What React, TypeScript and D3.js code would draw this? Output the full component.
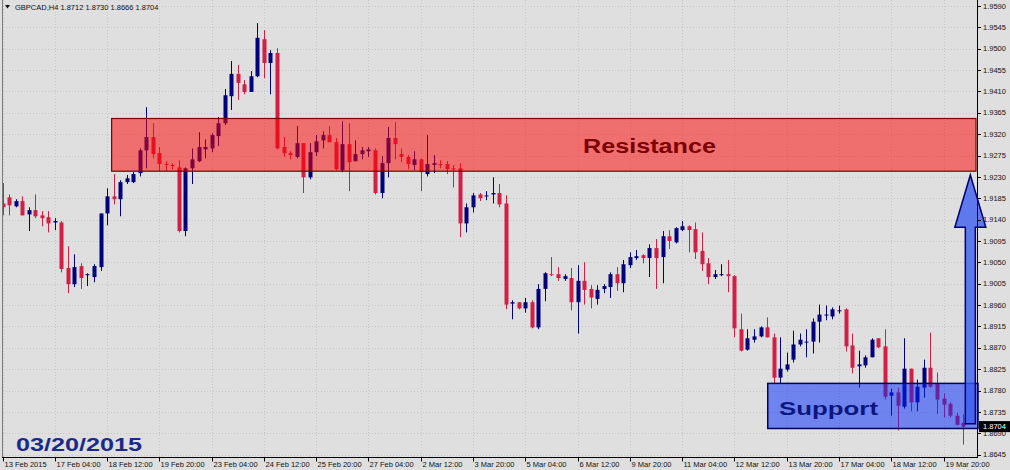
import * as d3 from "d3";

// GBPCAD H4, 13 Feb 20:00 -> 20 Mar 08:00 (148 bars)
const opens = [
  1.9174, 1.9187, 1.9168, 1.9179, 1.9151, 1.916, 1.9149, 1.9145, 1.9134, 1.9134,
  1.9038, 1.9004, 1.9042, 1.9023, 1.9019, 1.904, 1.9153, 1.9189, 1.9183, 1.9219,
  1.9219, 1.9238, 1.9286, 1.9314, 1.928, 1.9257, 1.9255, 1.925, 1.9116, 1.9248,
  1.9263, 1.9288, 1.929, 1.9316, 1.9343, 1.94, 1.9447, 1.9425, 1.9409, 1.9442,
  1.952, 1.947, 1.9491, 1.9293, 1.928, 1.9272, 1.9301, 1.9229, 1.9282, 1.9307,
  1.9318, 1.9303, 1.9244, 1.9299, 1.9263, 1.9278, 1.9284, 1.9286, 1.9196, 1.9259,
  1.9312, 1.9278, 1.9272, 1.9255, 1.9267, 1.9236, 1.9255, 1.9257, 1.9257, 1.9248,
  1.9248, 1.9132, 1.9166, 1.9193, 1.9189, 1.9193, 1.9196, 1.9174, 1.8963, 1.8966,
  1.8953, 1.8966, 1.8913, 1.8994, 1.9025, 1.9025, 1.9015, 1.9017, 1.8966, 1.9011,
  1.8994, 1.8973, 1.8994, 1.8998, 1.9025, 1.9006, 1.9044, 1.9059, 1.9065, 1.9059,
  1.908, 1.9061, 1.9105, 1.9092, 1.9118, 1.9126, 1.912, 1.9074, 1.9048, 1.9019,
  1.9023, 1.9025, 1.9021, 1.8909, 1.8866, 1.8887, 1.8894, 1.8913, 1.8892, 1.8807,
  1.8824, 1.8845, 1.8877, 1.8881, 1.8883, 1.8925, 1.8938, 1.8936, 1.8947, 1.8951,
  1.8875, 1.8831, 1.8833, 1.885, 1.889, 1.8873, 1.8769, 1.8776, 1.8746, 1.8826,
  1.8755, 1.8786, 1.8828, 1.8795, 1.8763, 1.8752, 1.8727, 1.8712,
];
const highs = [
  1.9217, 1.9193, 1.9183, 1.9189, 1.9166, 1.9193, 1.9158, 1.9158, 1.9143, 1.9137,
  1.9084, 1.9067, 1.9048, 1.9027, 1.9046, 1.9153, 1.9206, 1.9236, 1.9223, 1.9234,
  1.924, 1.929, 1.9377, 1.9343, 1.9293, 1.9263, 1.9259, 1.9265, 1.925, 1.929,
  1.9324, 1.9309, 1.9322, 1.9356, 1.9415, 1.9474, 1.9466, 1.9434, 1.9453, 1.9554,
  1.9539, 1.9497, 1.9501, 1.9314, 1.9284, 1.9337, 1.9301, 1.9301, 1.9318, 1.9326,
  1.9337, 1.9312, 1.9347, 1.9343, 1.9307, 1.9293, 1.9293, 1.929, 1.9274, 1.9335,
  1.9345, 1.929, 1.9276, 1.9284, 1.9269, 1.9318, 1.9276, 1.9265, 1.9263, 1.9255,
  1.9259, 1.9174, 1.9196, 1.9196, 1.92, 1.9229, 1.9215, 1.9191, 1.897, 1.8966,
  1.8975, 1.897, 1.9004, 1.9029, 1.9061, 1.904, 1.9025, 1.9038, 1.9044, 1.905,
  1.9002, 1.9002, 1.9004, 1.9029, 1.904, 1.9055, 1.9071, 1.9076, 1.9067, 1.9088,
  1.9099, 1.9116, 1.9118, 1.9124, 1.9137, 1.9128, 1.9134, 1.9113, 1.9059, 1.9034,
  1.9046, 1.9055, 1.9023, 1.8942, 1.8909, 1.8909, 1.8915, 1.8934, 1.89, 1.8892,
  1.886, 1.8906, 1.89, 1.8909, 1.8932, 1.8961, 1.8959, 1.8955, 1.8959, 1.8953,
  1.89, 1.8864, 1.8854, 1.889, 1.889, 1.8909, 1.8784, 1.8786, 1.889, 1.8826,
  1.8803, 1.8845, 1.8902, 1.8818, 1.8774, 1.8755, 1.8733, 1.873,
];
const lows = [
  1.9149, 1.9149, 1.9166, 1.9149, 1.9116, 1.9143, 1.9126, 1.9113, 1.9118, 1.9029,
  1.8985, 1.8998, 1.8994, 1.9, 1.9008, 1.9032, 1.9128, 1.9172, 1.9147, 1.9215,
  1.9217, 1.9231, 1.9248, 1.9269, 1.9242, 1.9242, 1.9246, 1.9113, 1.9105, 1.9215,
  1.9261, 1.9269, 1.9282, 1.9295, 1.9339, 1.9371, 1.9392, 1.9404, 1.9409, 1.944,
  1.9438, 1.9404, 1.9288, 1.9272, 1.9267, 1.9269, 1.9196, 1.9225, 1.9274, 1.929,
  1.9303, 1.9244, 1.924, 1.92, 1.9263, 1.9267, 1.9272, 1.9193, 1.9185, 1.9229,
  1.9267, 1.9261, 1.9246, 1.9244, 1.92, 1.9231, 1.9238, 1.9248, 1.9236, 1.9208,
  1.9103, 1.9113, 1.9155, 1.9179, 1.9181, 1.9174, 1.9166, 1.8951, 1.893, 1.8951,
  1.8944, 1.8911, 1.8909, 1.8968, 1.9021, 1.9011, 1.9011, 1.8949, 1.89, 1.8961,
  1.8953, 1.8961, 1.8985, 1.8975, 1.899, 1.8987, 1.9038, 1.9055, 1.9048, 1.9019,
  1.8994, 1.9006, 1.9078, 1.909, 1.9116, 1.9071, 1.9057, 1.9032, 1.9004, 1.9015,
  1.9021, 1.8987, 1.8892, 1.8862, 1.8864, 1.8881, 1.8892, 1.8892, 1.8795, 1.8795,
  1.882, 1.8839, 1.8873, 1.885, 1.8858, 1.8881, 1.8928, 1.893, 1.8942, 1.8862,
  1.8816, 1.8786, 1.8828, 1.885, 1.8869, 1.8761, 1.8727, 1.8696, 1.8742, 1.8736,
  1.8736, 1.8765, 1.8786, 1.8731, 1.8723, 1.8723, 1.8706, 1.8666,
];
const closes = [
  1.9166, 1.917, 1.9179, 1.9149, 1.916, 1.9147, 1.9143, 1.9132, 1.9137, 1.9036,
  1.9004, 1.904, 1.9017, 1.9025, 1.9042, 1.9153, 1.9189, 1.9183, 1.9219, 1.9227,
  1.9236, 1.9286, 1.9314, 1.9278, 1.9257, 1.9255, 1.9253, 1.9116, 1.9248, 1.9267,
  1.9293, 1.9293, 1.9318, 1.9343, 1.9402, 1.9447, 1.9428, 1.9409, 1.9442, 1.9523,
  1.947, 1.9491, 1.929, 1.928, 1.9276, 1.9301, 1.9229, 1.9282, 1.9305, 1.9318,
  1.9303, 1.9246, 1.9299, 1.9261, 1.9278, 1.9286, 1.9288, 1.9196, 1.9259, 1.9312,
  1.9299, 1.9272, 1.9257, 1.9267, 1.924, 1.9257, 1.9259, 1.9255, 1.9246, 1.9246,
  1.9132, 1.9166, 1.9191, 1.9185, 1.9191, 1.9196, 1.9172, 1.8961, 1.8966, 1.8953,
  1.8966, 1.8913, 1.8994, 1.9027, 1.9023, 1.9017, 1.9021, 1.8966, 1.9011, 1.8992,
  1.8976, 1.8992, 1.9, 1.9025, 1.9006, 1.9046, 1.9061, 1.9063, 1.9059, 1.908,
  1.9059, 1.9105, 1.9095, 1.9122, 1.9126, 1.9118, 1.9071, 1.9046, 1.9019, 1.9025,
  1.9025, 1.9021, 1.8911, 1.8864, 1.889, 1.8894, 1.8913, 1.8892, 1.8807, 1.8826,
  1.8835, 1.8877, 1.8887, 1.8883, 1.8925, 1.894, 1.894, 1.8951, 1.8949, 1.8873,
  1.8828, 1.8835, 1.885, 1.8887, 1.8871, 1.8767, 1.8776, 1.8748, 1.8826, 1.8755,
  1.8788, 1.8828, 1.8788, 1.8761, 1.875, 1.8727, 1.8708, 1.8704,
];

const timeLabels = [
  "13 Feb 2015", "17 Feb 04:00", "18 Feb 12:00", "19 Feb 20:00", "23 Feb 04:00",
  "24 Feb 12:00", "25 Feb 20:00", "27 Feb 04:00", "2 Mar 12:00", "3 Mar 20:00",
  "5 Mar 04:00", "6 Mar 12:00", "9 Mar 20:00", "11 Mar 04:00", "12 Mar 12:00",
  "13 Mar 20:00", "17 Mar 04:00", "18 Mar 12:00", "19 Mar 20:00",
];
const priceTicks = [
  1.959, 1.9545, 1.95, 1.9455, 1.941, 1.9365, 1.932, 1.9275, 1.923, 1.9185, 1.914,
  1.9095, 1.905, 1.9005, 1.896, 1.8915, 1.887, 1.8825, 1.878, 1.8735, 1.869, 1.8645,
];

// zones drawn on the chart: [low, high], starting bar
const resistance = [1.9242, 1.9353];
const resistanceStart = 16.7;
const support = [1.87, 1.8795];
const supportStart = 117.1;
const arrowBar = 148.1;
const arrowPrices = [1.871, 1.9124, 1.9234]; // shaft bottom, head base, tip

const W = 1010;
const H = 470;
const plotRight = 977;
const plotBottom = 457.5;
const BG = "#dfdfdf";
const BULL = "#00007c";
const BEAR = "#d21f45";
const FONT = "'Liberation Sans', Arial, sans-serif";

const App = () => {
  const n = closes.length;
  const x = d3.scaleLinear().domain([0, n - 1]).range([2.5, 2.5 + (n - 1) * 6.535]);
  const y = d3.scaleLinear().domain([1.8645, 1.959]).range([454.6, 6]);
  const fmt = d3.format(".4f");
  const last = closes[n - 1];

  const ax = x(arrowBar);
  const yb = y(arrowPrices[0]);
  const yh = y(arrowPrices[1]);
  const yt = y(arrowPrices[2]);
  const arrowPath = d3.line()([
    [ax - 5, yb], [ax - 5, yh], [ax - 15.5, yh], [ax, yt],
    [ax + 15.5, yh], [ax + 5, yh], [ax + 5, yb],
  ]) + "Z";

  return (
    <svg
      width={W}
      height={H}
      style={{ position: "fixed", left: 0, top: 0, background: BG }}
      fontFamily={FONT}
    >
      <rect width={W} height={H} fill={BG} />
      <defs>
        <clipPath id="plot">
          <rect x={2.5} y={0} width={plotRight - 2.5} height={plotBottom} />
        </clipPath>
      </defs>

      {/* grid */}
      <g stroke="#c6c6c6" strokeDasharray="1,2" strokeWidth={1}>
        {priceTicks.map((p) => (
          <line key={p} x1={3} x2={plotRight} y1={Math.round(y(p)) + 0.5} y2={Math.round(y(p)) + 0.5} />
        ))}
        {timeLabels.map((_, k) => (
          <line key={k} x1={Math.round(x(k * 8)) + 0.5} x2={Math.round(x(k * 8)) + 0.5} y1={0} y2={plotBottom} />
        ))}
      </g>

      {/* candles */}
      <g clipPath="url(#plot)">
        {closes.map((c, i) => {
          const o = opens[i];
          const cx = Math.round(x(i));
          const col = c >= o ? BULL : BEAR;
          const top = y(Math.max(o, c));
          const bot = y(Math.min(o, c));
          return (
            <g key={i}>
              <line x1={cx + 0.5} x2={cx + 0.5} y1={y(highs[i])} y2={y(lows[i])} stroke={col} strokeWidth={1} />
              <rect x={cx - 1.5} y={top} width={4} height={Math.max(1, bot - top)} fill={col} />
            </g>
          );
        })}
      </g>

      {/* resistance zone */}
      <rect
        x={x(resistanceStart)}
        y={y(resistance[1])}
        width={plotRight - 1 - x(resistanceStart)}
        height={y(resistance[0]) - y(resistance[1])}
        fill="#ff0000"
        fillOpacity={0.5}
        stroke="#7a0000"
        strokeWidth={1.2}
      />
      <text x={583} y={153} fontSize={20} fontWeight="bold" fill="#7d0000" textLength={133} lengthAdjust="spacingAndGlyphs">
        Resistance
      </text>

      {/* support zone */}
      <rect
        x={x(supportStart)}
        y={y(support[1])}
        width={plotRight + 1 - x(supportStart)}
        height={y(support[0]) - y(support[1])}
        fill="#0028fe"
        fillOpacity={0.5}
        stroke="#000060"
        strokeWidth={1.5}
      />
      <text x={779} y={414.5} fontSize={19} fontWeight="bold" fill="#0b1780" textLength={99} lengthAdjust="spacingAndGlyphs">
        Support
      </text>

      {/* arrow */}
      <path d={arrowPath} fill="#3a5cf0" fillOpacity={0.78} stroke="#000070" strokeWidth={1.5} />

      {/* frame */}
      <line x1={2.5} x2={2.5} y1={0} y2={plotBottom} stroke="#7a7a7a" />
      <line x1={plotRight + 0.5} x2={plotRight + 0.5} y1={0} y2={plotBottom} stroke="#000" />
      <line x1={2} x2={plotRight + 1} y1={plotBottom} y2={plotBottom} stroke="#000" />

      {/* price axis */}
      <g fontSize={7.5} fill="#111">
        {priceTicks.map((p) => (
          <g key={p}>
            <line x1={plotRight} x2={plotRight + 4} y1={Math.round(y(p)) + 0.5} y2={Math.round(y(p)) + 0.5} stroke="#000" />
            <text x={983} y={y(p)} dy="0.35em">{fmt(p)}</text>
          </g>
        ))}
      </g>
      <rect x={979} y={y(last) - 5.5} width={31} height={11} fill="#000" />
      <text x={983} y={y(last)} dy="0.35em" fontSize={7.5} fill="#fff">{fmt(last)}</text>

      {/* time axis */}
      <g fontSize={7.5} fill="#111">
        {timeLabels.map((t, k) => {
          const tx = Math.round(x(k * 8)) + 0.5;
          return (
            <g key={t}>
              <line x1={tx} x2={tx} y1={plotBottom} y2={plotBottom + 4} stroke="#000" />
              <text x={tx + 1} y={467}>{t}</text>
            </g>
          );
        })}
      </g>

      {/* header */}
      <path d="M5,5 L10,5 L7.5,8.5 Z" fill="#111" />
      <text x={15} y={9.5} fontSize={7.5} fill="#111">
        {`GBPCAD,H4  ${fmt(opens[n - 1])} ${fmt(highs[n - 1])} ${fmt(lows[n - 1])} ${fmt(last)}`}
      </text>

      {/* date stamp */}
      <text x={16} y={451} fontSize={19} fontWeight="bold" fill="#1b2a8a" textLength={126} lengthAdjust="spacingAndGlyphs">
        03/20/2015
      </text>
    </svg>
  );
};

export default App;
